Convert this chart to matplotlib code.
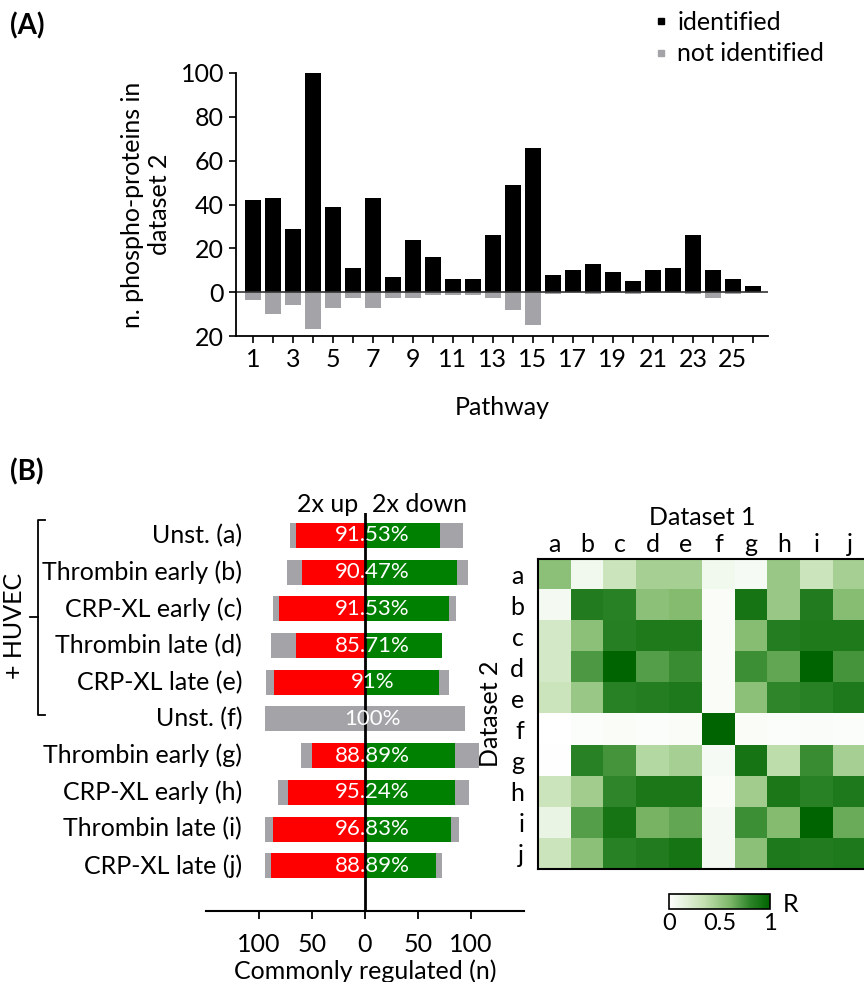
import matplotlib
matplotlib.use('Agg')
import matplotlib.pyplot as plt
import numpy as np
from matplotlib.colors import LinearSegmentedColormap
from matplotlib.lines import Line2D

plt.rcParams['font.family'] = ['Lato', 'DejaVu Sans']
FS = 18

# ---- Panel A data ----
pathways = np.arange(1, 27)
identified = [42, 43, 29, 100, 39, 11, 43, 7, 24, 16, 6, 6, 26, 49, 66,
              8, 10, 13, 9, 5, 10, 11, 26, 10, 6, 3]
not_identified = [3.5, 10, 6, 17, 7, 2.5, 7, 2.5, 2.5, 1.5, 1.5, 1.5, 2.5, 8, 15,
                  1, 0, 1, 0, 1, 0, 0, 1, 2.5, 1, 0]

# ---- Panel B data ----
conditions = ['Unst. (a)', 'Thrombin early (b)', 'CRP-XL early (c)', 'Thrombin late (d)',
              'CRP-XL late (e)', 'Unst. (f)', 'Thrombin early (g)', 'CRP-XL early (h)',
              'Thrombin late (i)', 'CRP-XL late (j)']
up_total = [71, 74, 87, 89, 93, 94, 60, 82, 94, 94]
up_common = [65, 59, 81, 65, 86, 0, 50, 73, 87, 89]
down_common = [71, 87, 79, 73, 70, 0, 85, 85, 81, 67]
down_total = [92, 97, 86, 73, 79, 94.5, 108, 98, 89, 73]
pct_labels = ['91.53%', '90.47%', '91.53%', '85.71%', '91%', '100%',
              '88.89%', '95.24%', '96.83%', '88.89%']

# ---- Heatmap data (R) ----
letters = list('abcdefghij')
R = np.array([
    [0.55, 0.08, 0.30, 0.45, 0.45, 0.08, 0.05, 0.50, 0.30, 0.45],
    [0.06, 0.85, 0.82, 0.55, 0.58, 0.03, 0.90, 0.50, 0.85, 0.57],
    [0.25, 0.55, 0.83, 0.86, 0.86, 0.03, 0.57, 0.84, 0.86, 0.86],
    [0.25, 0.72, 1.00, 0.70, 0.77, 0.03, 0.76, 0.67, 1.00, 0.74],
    [0.30, 0.50, 0.82, 0.84, 0.87, 0.03, 0.55, 0.80, 0.82, 0.87],
    [0.00, 0.02, 0.03, 0.02, 0.03, 1.00, 0.03, 0.02, 0.025, 0.02],
    [0.01, 0.82, 0.74, 0.40, 0.45, 0.05, 0.90, 0.37, 0.77, 0.45],
    [0.30, 0.47, 0.80, 0.88, 0.88, 0.03, 0.47, 0.88, 0.82, 0.87],
    [0.12, 0.70, 0.90, 0.62, 0.67, 0.06, 0.76, 0.58, 1.00, 0.65],
    [0.30, 0.55, 0.82, 0.85, 0.90, 0.06, 0.55, 0.87, 0.85, 0.87],
])

black = '#000000'
grey = '#a3a3a8'
red = '#ff0000'
green = '#008000'

fig = plt.figure(figsize=(8.64, 9.82), dpi=100)

# ================= Panel A =================
axA = fig.add_axes([0.2731, 0.6578, 0.6157, 0.2679])
axA.bar(pathways, identified, width=0.8, color=black)
axA.bar(pathways, -np.array(not_identified), width=0.8, color=grey)
axA.axhline(0, color='#333333', lw=1.2)
axA.set_xlim(0.15, 26.75)
axA.set_ylim(-20, 100)
axA.set_yticks([-20, 0, 20, 40, 60, 80, 100])
axA.set_yticklabels(['20', '0', '20', '40', '60', '80', '100'])
axA.set_xticks(pathways)
axA.set_xticklabels([str(p) if p % 2 == 1 else '' for p in pathways])
axA.tick_params(labelsize=FS, width=1.2, length=5)
for s in ['top', 'right']:
    axA.spines[s].set_visible(False)
for s in ['left', 'bottom']:
    axA.spines[s].set_linewidth(1.3)
axA.set_xlabel('Pathway', fontsize=FS, labelpad=18)
axA.set_ylabel('n. phospho-proteins in\ndataset 2', fontsize=FS, labelpad=7)

handles = [Line2D([], [], marker='s', ls='none', color=black, markersize=5),
           Line2D([], [], marker='s', ls='none', color=grey, markersize=5)]
fig.legend(handles, ['identified', 'not identified'], loc='upper left',
           bbox_to_anchor=(0.732, 1.012), frameon=False, fontsize=FS,
           handlelength=0.5, handletextpad=0.4, labelspacing=0.35)

fig.text(0.012, 0.974, '(A)', fontsize=20, fontweight='bold', va='center')
fig.text(0.012, 0.519, '(B)', fontsize=20, fontweight='bold', va='center')

# ================= Panel B =================
axB = fig.add_axes([0.2384, 0.0723, 0.3681, 0.4053])
y = np.arange(len(conditions))
h = 0.68
axB.barh(y, -np.array(up_total), height=h, color=grey)
axB.barh(y, down_total, height=h, color=grey)
axB.barh(y, -np.array(up_common), height=h, color=red)
axB.barh(y, down_common, height=h, color=green)
axB.axvline(0, color=black, lw=2)
for yi, lab in zip(y, pct_labels):
    axB.text(7, yi, lab, color='white', ha='center', va='center', fontsize=FS - 2)
for yi, lab in zip(y, conditions):
    axB.text(-116, yi, lab, ha='right', va='center', fontsize=FS, clip_on=False)
axB.text(-6, -0.85, '2x up', ha='right', va='center', fontsize=FS)
axB.text(7, -0.85, '2x down', ha='left', va='center', fontsize=FS)
axB.set_xlim(-150, 150)
axB.set_ylim(len(conditions) - 1 + 1.23, -0.61)
axB.set_xticks([-100, -50, 0, 50, 100])
axB.set_xticklabels(['100', '50', '0', '50', '100'])
axB.set_yticks([])
axB.tick_params(labelsize=FS, width=1.3, length=6, pad=10)
for s in ['top', 'right', 'left']:
    axB.spines[s].set_visible(False)
axB.spines['bottom'].set_linewidth(1.5)
axB.set_xlabel('Commonly regulated (n)', fontsize=FS, labelpad=2)

# HUVEC bracket (figure pixels -> fraction)
W, H = 864.0, 982.0
def fx(px):
    return px / W
def fy(py):
    return 1 - py / H
bk = dict(color=black, lw=1.3, transform=fig.transFigure)
fig.add_artist(Line2D([fx(45), fx(38), fx(38), fx(45)],
                      [fy(520), fy(520), fy(715), fy(715)], **bk))
fig.add_artist(Line2D([fx(30), fx(38)], [fy(617), fy(617)], **bk))
fig.text(fx(15), fy(626), '+ HUVEC', rotation=90, ha='center', va='center', fontsize=FS)

# ================= Heatmap =================
cmap = LinearSegmentedColormap.from_list(
    'wg', [(0, '#ffffff'), (0.35, '#c2e0b0'), (0.6, '#7fb86a'),
           (0.8, '#2e852a'), (1.0, '#006400')])
axH = fig.add_axes([0.6227, 0.1151, 0.3796, 0.3157])
im = axH.imshow(R, cmap=cmap, vmin=0, vmax=1, aspect='auto')
axH.set_xticks(range(10))
axH.set_xticklabels(letters)
axH.set_yticks(range(10))
axH.set_yticklabels(letters)
axH.xaxis.tick_top()
axH.xaxis.set_label_position('top')
axH.tick_params(length=0, labelsize=FS, pad=2)
axH.tick_params(axis='y', pad=10)
axH.set_xlabel('Dataset 1', fontsize=FS, labelpad=6)
axH.set_ylabel('Dataset 2', fontsize=FS, labelpad=6)
for s in axH.spines.values():
    s.set_linewidth(1.5)

cax = fig.add_axes([0.7743, 0.0743, 0.1169, 0.0153])
cb = fig.colorbar(im, cax=cax, orientation='horizontal')
cb.set_ticks([0, 0.5, 1])
cb.set_ticklabels(['0', '0.5', '1'])
cax.tick_params(length=0, labelsize=FS - 1, pad=3)
cb.outline.set_linewidth(1.2)
fig.text(fx(783), fy(904), 'R', fontsize=FS, va='center', ha='left')

fig.savefig('out.png', dpi=100)
